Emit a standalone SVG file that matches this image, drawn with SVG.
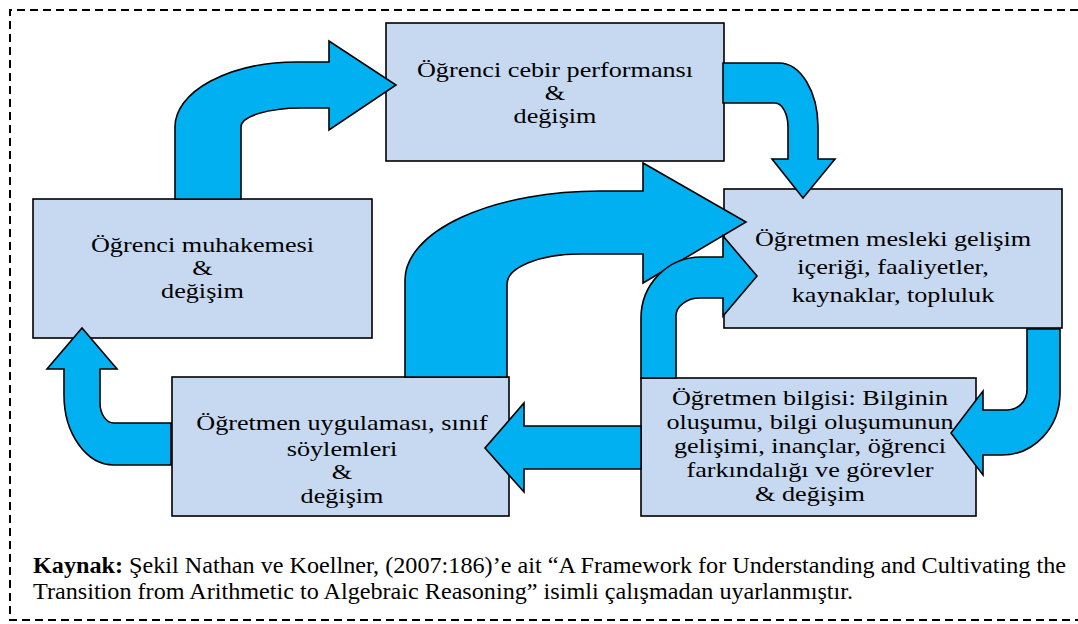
<svg xmlns="http://www.w3.org/2000/svg" width="1078" height="624" viewBox="0 0 1078 624">
<style>
.box{fill:#C6D9F1;stroke:#000;stroke-width:1.6}
.arr{fill:#00B0F0;stroke:#000;stroke-width:1.6;stroke-linejoin:miter}
.t{font-family:'Liberation Serif','DejaVu Serif',serif;font-size:22px;fill:#000;text-anchor:middle}
.cap{font-family:'Liberation Serif','DejaVu Serif',serif;font-size:24px;fill:#000}
.frame{fill:none;stroke:#000;stroke-width:2;stroke-dasharray:8 5}
</style>
<rect width="1078" height="624" fill="#fff"/>
<path class="frame" d="M1078,10 H10 V620 H1078"/>

<g id="node-cebir">
<rect class="box" x="386" y="23" width="338" height="138"/>
<g transform="translate(555,0) scale(1.19,1)">
<text class="t" x="0" y="77">Öğrenci cebir performansı</text>
<text class="t" x="0" y="100">&amp;</text>
<text class="t" x="0" y="123">değişim</text>
</g>
</g>

<g id="node-muhakeme">
<rect class="box" x="33" y="199" width="339" height="139"/>
<g transform="translate(202.5,0) scale(1.19,1)">
<text class="t" x="0" y="252">Öğrenci muhakemesi</text>
<text class="t" x="0" y="275">&amp;</text>
<text class="t" x="0" y="298">değişim</text>
</g>
</g>

<g id="node-mesleki">
<rect class="box" x="724" y="189" width="338" height="139"/>
<g transform="translate(893,0) scale(1.19,1)">
<text class="t" x="0" y="246">Öğretmen mesleki gelişim</text>
<text class="t" x="0" y="274">içeriği, faaliyetler,</text>
<text class="t" x="0" y="302">kaynaklar, topluluk</text>
</g>
</g>

<g id="node-bilgi">
<rect class="box" x="641" y="378" width="335" height="138"/>
<g transform="translate(810,0) scale(1.19,1)">
<text class="t" x="0" y="405">Öğretmen bilgisi: Bilginin</text>
<text class="t" x="0" y="429">oluşumu, bilgi oluşumunun</text>
<text class="t" x="0" y="453">gelişimi, inançlar, öğrenci</text>
<text class="t" x="0" y="477">farkındalığı ve görevler</text>
<text class="t" x="0" y="501">&amp; değişim</text>
</g>
</g>

<g id="node-uygulama">
<rect class="box" x="172" y="377" width="337" height="139"/>
<g transform="translate(342,0) scale(1.19,1)">
<text class="t" x="0" y="430">Öğretmen uygulaması, sınıf</text>
<text class="t" x="0" y="456">söylemleri</text>
<text class="t" x="0" y="479">&amp;</text>
<text class="t" x="0" y="503">değişim</text>
</g>
</g>

<g id="connectors">
<path class="arr" d="M175,199 L175,127 A122,65 0 0 1 297,62 L329,62 L329,41 L396,85 L329,130 L329,108 L301,108 A60,19 0 0 0 241,127 L241,199 Z"/>
<path class="arr" d="M723,63 L779,63 A39,64 0 0 1 818,127 L818,159 L835,159 L803,198 L772,159 L788,159 L788,127 A13,24 0 0 0 775,103 L723,103 Z"/>
<path class="arr" d="M1027,329 L1027,390 A20,20 0 0 1 1007,410 L983,410 L983,391 L951,433 L983,475 L983,455 L1002,455 A58,62 0 0 0 1060,393 L1060,329 Z"/>
<path class="arr" d="M641,426 L524,426 L524,403 L485,448 L524,492 L524,469 L641,469 Z"/>
<path class="arr" d="M171,423 L114,423 A14,20 0 0 1 100,403 L100,369 L117,369 L82,328 L47,369 L64,369 L64,395 A50,70 0 0 0 114,465 L171,465 Z"/>
<path class="arr" d="M405,377 L405,280 A195,89 0 0 1 600,191 L643,191 L643,163 L746,222 L643,283 L643,254 L580,254 A73,30 0 0 0 507,284 L507,377 Z"/>
<path class="arr" d="M641,378 L641,318 A60,61 0 0 1 701,257 L723,257 L723,236 L757,276 L723,316 L723,298 L700,298 A24,18 0 0 0 676,316 L676,378 Z"/>
</g>

<text class="cap" x="33" y="573" textLength="1033" lengthAdjust="spacingAndGlyphs"><tspan font-weight="bold">Kaynak:</tspan> Şekil Nathan ve Koellner, (2007:186)’e ait “A Framework for Understanding and Cultivating the</text>
<text class="cap" x="33" y="599" textLength="820" lengthAdjust="spacingAndGlyphs">Transition from Arithmetic to Algebraic Reasoning” isimli çalışmadan uyarlanmıştır.</text>
</svg>
